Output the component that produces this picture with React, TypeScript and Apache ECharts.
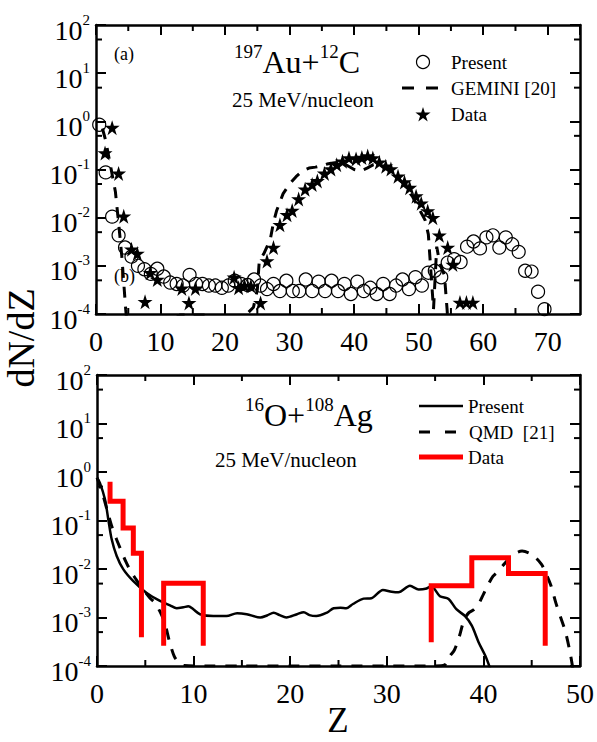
import React, { useEffect, useRef } from 'react';
import * as echarts from 'echarts';

const FONT = "'Liberation Serif', 'Times New Roman', Times, serif";

// ---------- Panel (a): 197Au + 12C, 25 MeV/nucleon ----------
const presentAZ = [0.5, 1.5, 2.5, 3.5, 4.5, 5.5, 6.5, 7.5, 8.5, 9.5, 10.5, 11.5, 12.5, 13.5, 14.5, 15.5, 16.5, 17.5, 18.5, 19.5,
  20.5, 21.5, 22.5, 23.5, 24.5, 25.5, 26.5, 27.5, 28.5, 29.5, 30.5, 31.5, 32.5, 33.5, 34.5, 35.5, 36.5, 37.5, 38.5, 39.5,
  40.5, 41.5, 42.5, 43.5, 44.5, 45.5, 46.5, 47.5, 48.5, 49.5, 50.5, 51.5, 52.5, 53.5, 54.5, 55.5, 56.5, 57.5, 58.5, 59.5,
  60.5, 61.5, 62.5, 63.5, 64.5, 65.5, 66.5, 67.5, 68.5, 69.5];
const presentAV = [0.85, 0.087, 0.0105, 0.0043, 0.0024, 0.00155, 0.001, 0.00085, 0.00068, 0.00087, 0.0006, 0.00045, 0.00042, 0.00039,
  0.00065, 0.00042, 0.00042, 0.00039, 0.00039, 0.00035, 0.00039, 0.00049, 0.00042, 0.0004, 0.00052, 0.00039, 0.00033, 0.00042,
  0.0003, 0.00049, 0.0003, 0.0003, 0.00052, 0.0003, 0.00047, 0.0003, 0.00049, 0.0003, 0.00042, 0.00026, 0.00047, 0.0003,
  0.00035, 0.00026, 0.00042, 0.00026, 0.00039, 0.00052, 0.00033, 0.00058, 0.00039, 0.00072, 0.00079, 0.00058, 0.00117,
  0.00138, 0.0012, 0.0025, 0.0032, 0.0023, 0.0039, 0.0043, 0.0024, 0.0039, 0.0028, 0.00195, 0.00079, 0.00076, 0.00029, 0.000126];

const geminiZ = [1.0, 1.5, 2.0, 2.5, 3.0, 3.5, 4.0, 4.6, 5.0, 6.0, 10, 13, 17, 20, 23, 24.4, 25.0, 25.3, 26, 27, 27.5, 28, 29, 30,
  31, 32, 33, 34, 35, 36, 37, 38, 39, 40, 41, 42, 43, 44, 45, 46, 47, 48, 49, 50, 51, 51.5, 52.3, 52.8, 53.2, 54.0, 54.4, 54.6];
const geminiV = [0.71, 0.4, 0.178, 0.079, 0.035, 0.0079, 0.00158, 0.000126, 0.0000316, 0.0000158, 0.00005, 0.000095, 0.000095,
  0.000063, 0.000089, 0.000138, 0.00032, 0.00126, 0.00178, 0.0035, 0.0079, 0.0141, 0.0316, 0.05, 0.071, 0.093, 0.107, 0.112,
  0.12, 0.132, 0.138, 0.135, 0.12, 0.1, 0.093, 0.107, 0.126, 0.126, 0.107, 0.085, 0.063, 0.045, 0.028, 0.0158, 0.0089, 0.0045,
  0.000126, 0.0025, 0.00126, 0.00063, 0.000126, 0.00005];

const dataAZ = [1.4, 2.5, 3.5, 4.3, 5.5, 6.4, 7.6, 8.4, 9.5, 13.3, 14.4, 15.4, 21.4, 22.1, 23.0, 24.0, 25.5, 26.5, 27.5, 28.5,
  29.6, 30.4, 31.4, 32.4, 33.5, 34.3, 35.4, 36.4, 37.3, 38.2, 39.2, 40.3, 41.2, 42.1, 42.9, 43.9, 44.9, 45.7, 46.8, 47.8,
  48.6, 49.6, 50.4, 51.4, 52.2, 53.2, 54.5, 55.3, 56.4, 57.4, 58.4];
const dataAV = [0.22, 0.74, 0.083, 0.0107, 0.0022, 0.0018, 0.00018, 0.00072, 0.00052, 0.00034, 0.00017, 0.00034, 0.00058,
  0.00035, 0.00039, 0.00038, 0.00017, 0.00126, 0.0024, 0.0071, 0.0115, 0.0141, 0.0245, 0.039, 0.049, 0.058, 0.083, 0.102,
  0.126, 0.148, 0.174, 0.166, 0.178, 0.19, 0.174, 0.141, 0.117, 0.102, 0.072, 0.055, 0.042, 0.028, 0.02, 0.0138, 0.01,
  0.0043, 0.0024, 0.00107, 0.000174, 0.000174, 0.000174];

// ---------- Panel (b): 16O + 108Ag, 25 MeV/nucleon ----------
const presentBZ = [0, 0.31, 0.83, 1.17, 1.52, 2.04, 2.73, 3.76, 5.14, 6.52, 7.56, 8.25, 8.94, 9.45, 9.97, 10.66, 12.04, 13.4,
  14.5, 15.5, 16.9, 17.6, 18.3, 18.9, 19.6, 20.7, 21.4, 22.0, 22.7, 23.8, 24.5, 25.2, 25.8, 26.5, 27.6, 28.4, 29.6, 30.5,
  31.2, 32.4, 33.3, 34.0, 34.6, 35.5, 36.4, 37.2, 38.1, 38.8, 39.5, 40.2, 40.7];
const presentBV = [0.76, 0.59, 0.27, 0.105, 0.041, 0.0186, 0.0098, 0.0056, 0.0032, 0.0022, 0.00178, 0.00155, 0.00162, 0.0017,
  0.00148, 0.00117, 0.00107, 0.00107, 0.00123, 0.00117, 0.001, 0.0011, 0.00126, 0.00112, 0.001, 0.00117, 0.00129, 0.00112,
  0.00107, 0.00126, 0.00155, 0.00158, 0.00155, 0.0019, 0.00245, 0.0025, 0.0037, 0.0034, 0.0033, 0.0045, 0.0038, 0.0039,
  0.0044, 0.00275, 0.0024, 0.00148, 0.00107, 0.00068, 0.00031, 0.000162, 0.000089];

const qmdZ = [0, 0.5, 1, 1.5, 2, 2.5, 3, 3.5, 4, 4.5, 5, 5.5, 6, 6.5, 7, 7.5, 8, 8.5, 9, 12, 15, 20, 25, 30, 35, 36, 36.5, 37,
  37.5, 38, 38.5, 39, 39.5, 40, 40.5, 41, 41.5, 42, 43, 44, 45, 46, 46.5, 47, 47.5, 48, 48.5, 49, 49.3];
const qmdV = [0.76, 0.4, 0.178, 0.079, 0.042, 0.024, 0.014, 0.0089, 0.0063, 0.0045, 0.0033, 0.0025, 0.002, 0.00135, 0.00079,
  0.00032, 0.000158, 0.000115, 0.000102, 0.0001, 0.0001, 0.0001, 0.0001, 0.0001, 0.0001, 0.000105, 0.000158,
  0.000214, 0.0004, 0.00089, 0.00126, 0.00145, 0.0019, 0.003, 0.0048, 0.0071, 0.0089, 0.0117, 0.019, 0.0234, 0.02, 0.0126,
  0.0079, 0.0045, 0.002, 0.001, 0.0005, 0.000178, 0.000079];

// Data histogram (bin edges, bin values, level before first edge, level after last edge)
const redG1Edges = [1.35, 2.7, 3.76, 4.6];
const redG1Values = [0.25, 0.07, 0.021];
const redG1Ends = [0.63, 0.00039];
const redG2Edges = [6.9, 11.0];
const redG2Values = [0.0051];
const redG2Ends = [0.00026, 0.00026];
const redG3Edges = [34.6, 38.8, 42.6, 46.4];
const redG3Values = [0.0045, 0.017, 0.0081];
const redG3Ends = [0.00031, 0.00026];

// tick labels
const yDecades = [-4, -3, -2, -1, 0, 1, 2];

const lg = (v: number) => Math.log10(v);
const pairs = (zs: number[], vs: number[]) => zs.map((z, i) => [z, lg(vs[i])]);
const stepPts = (edges: number[], values: number[], ends: number[]) => {
  const pts: number[][] = [[edges[0], lg(ends[0])]];
  values.forEach((v, i) => {
    pts.push([edges[i], lg(v)]);
    pts.push([edges[i + 1], lg(v)]);
  });
  pts.push([edges[edges.length - 1], lg(ends[1])]);
  return pts;
};

const STAR = 'path://M50,0L61.2,34.5L97.6,34.5L68.2,55.9L79.4,90.5L50,69.1L20.6,90.5L31.8,55.9L2.4,34.5L38.8,34.5Z';

const starPoints = (cx: number, cy: number, R: number) => {
  const pts: number[][] = [];
  for (let k = 0; k < 10; k++) {
    const a = -Math.PI / 2 + (k * Math.PI) / 5;
    const r = k % 2 === 0 ? R : R * 0.382;
    pts.push([cx + r * Math.cos(a), cy + r * Math.sin(a)]);
  }
  return pts;
};

const AX_LINE = { show: true, onZero: false, lineStyle: { color: '#000', width: 2.5 } };
const AX_TICK = { show: true, inside: true, length: 10, lineStyle: { color: '#000', width: 2 } };

const xAx = (grid: number, pos: string, max: number, labels: boolean) => ({
  type: 'value', gridIndex: grid, position: pos, min: 0, max, interval: 10,
  axisLine: AX_LINE, axisTick: AX_TICK, splitLine: { show: false }, minorTick: { show: false },
  axisLabel: labels
    ? { show: true, color: '#000', fontFamily: FONT, fontSize: 28, lineHeight: 28, margin: 13, showMaxLabel: max % 10 === 0 }
    : { show: false },
});

const yAx = (grid: number, pos: string, labels: boolean) => ({
  type: 'value', gridIndex: grid, position: pos, min: yDecades[0], max: yDecades[yDecades.length - 1], interval: 1,
  axisLine: AX_LINE, axisTick: AX_TICK, splitLine: { show: false }, minorTick: { show: false },
  axisLabel: labels
    ? {
        show: true, margin: 6, padding: [10, 0, 0, 0],
        formatter: (v: number) => `{b|10}{e|${Math.round(v)}}`,
        rich: {
          b: { fontSize: 28, fontFamily: FONT, color: '#000', lineHeight: 36 },
          e: { fontSize: 15, fontFamily: FONT, color: '#000', lineHeight: 14, verticalAlign: 'top' },
        },
      }
    : { show: false },
});

const minorX = (xi: number, yi: number, positions: number[]) => ({
  type: 'custom', xAxisIndex: xi, yAxisIndex: yi, silent: true, z: 10,
  data: positions.map((p) => [p, 0]),
  renderItem: (params: any, api: any) => {
    const cs = params.coordSys;
    const px = api.coord([api.value(0), api.value(1)])[0];
    const st = { stroke: '#000', lineWidth: 2 };
    return {
      type: 'group',
      children: [
        { type: 'line', shape: { x1: px, y1: cs.y + cs.height, x2: px, y2: cs.y + cs.height - 6 }, style: st },
        { type: 'line', shape: { x1: px, y1: cs.y, x2: px, y2: cs.y + 6 }, style: st },
      ],
    };
  },
});

const minorY = (xi: number, yi: number, positions: number[]) => ({
  type: 'custom', xAxisIndex: xi, yAxisIndex: yi, silent: true, z: 10,
  data: positions.map((p) => [0, p]),
  renderItem: (params: any, api: any) => {
    const cs = params.coordSys;
    const py = api.coord([api.value(0), api.value(1)])[1];
    const st = { stroke: '#000', lineWidth: 2 };
    return {
      type: 'group',
      children: [
        { type: 'line', shape: { x1: cs.x, y1: py, x2: cs.x + 6, y2: py }, style: st },
        { type: 'line', shape: { x1: cs.x + cs.width, y1: py, x2: cs.x + cs.width - 6, y2: py }, style: st },
      ],
    };
  },
});

const txt = (text: string, x: number, y: number, size: number, extra: any = {}) => ({
  type: 'text', x, y, silent: true, z: 100,
  style: {
    text, fontSize: size, fontFamily: FONT, fill: '#000',
    align: 'left', verticalAlign: 'middle', textAlign: 'left', textVerticalAlign: 'middle', ...extra,
  },
});

const titleRich = {
  b: { fontSize: 32, fontFamily: FONT, fill: '#000', color: '#000', lineHeight: 40 },
  s: { fontSize: 19, fontFamily: FONT, fill: '#000', color: '#000', lineHeight: 14, verticalAlign: 'top' },
};

const minorYPos = yDecades.slice(0, -1).map((d) => d + Math.log10(5));

const buildOption = () => ({
  animation: false,
  backgroundColor: '#fff',
  grid: [
    { left: 96, top: 25, width: 484, height: 289, containLabel: false },
    { left: 97, top: 375, width: 483, height: 291, containLabel: false },
  ],
  xAxis: [xAx(0, 'bottom', 75, true), xAx(0, 'top', 75, false), xAx(1, 'bottom', 50, true), xAx(1, 'top', 50, false)],
  yAxis: [yAx(0, 'left', true), yAx(0, 'right', false), yAx(1, 'left', true), yAx(1, 'right', false)],
  series: [
    minorX(0, 0, [5, 15, 25, 35, 45, 55, 65]),
    minorY(0, 0, minorYPos),
    minorX(2, 2, [5, 15, 25, 35, 45]),
    minorY(2, 2, minorYPos),
    {
      name: 'Present', type: 'scatter', xAxisIndex: 0, yAxisIndex: 0, symbol: 'circle', symbolSize: 13,
      itemStyle: { color: 'rgba(255,255,255,0)', borderColor: '#000', borderWidth: 1.2, opacity: 1 },
      data: pairs(presentAZ, presentAV),
    },
    {
      name: 'GEMINI [20]', type: 'line', xAxisIndex: 0, yAxisIndex: 0, showSymbol: false, symbol: 'none', clip: true,
      lineStyle: { color: '#000', width: 3, type: [11, 9] },
      data: pairs(geminiZ, geminiV),
    },
    {
      name: 'Data', type: 'scatter', xAxisIndex: 0, yAxisIndex: 0, symbol: STAR, symbolSize: 15,
      itemStyle: { color: '#000', opacity: 1 },
      data: pairs(dataAZ, dataAV),
    },
    {
      name: 'Present', type: 'line', xAxisIndex: 2, yAxisIndex: 2, showSymbol: false, symbol: 'none', clip: true, smooth: 0.3,
      lineStyle: { color: '#000', width: 2.5 },
      data: pairs(presentBZ, presentBV),
    },
    {
      name: 'QMD [21]', type: 'line', xAxisIndex: 2, yAxisIndex: 2, showSymbol: false, symbol: 'none', clip: true, smooth: 0.3,
      lineStyle: { color: '#000', width: 3, type: [11, 10] },
      data: pairs(qmdZ, qmdV),
    },
    ...[
      stepPts(redG1Edges, redG1Values, redG1Ends),
      stepPts(redG2Edges, redG2Values, redG2Ends),
      stepPts(redG3Edges, redG3Values, redG3Ends),
    ].map((pts) => ({
      name: 'Data', type: 'line', xAxisIndex: 2, yAxisIndex: 2, showSymbol: false, symbol: 'none', clip: true,
      lineStyle: { color: '#ff0000', width: 5, join: 'miter' },
      data: pts,
    })),
  ],
  graphic: {
    elements: [
      // panel (a) annotations
      txt('(a)', 114, 54, 18),
      txt('(b)', 114, 276, 18),
      {
        type: 'text', x: 234, y: 42, silent: true, z: 100,
        style: { text: '{s|197}{b|Au+}{s|12}{b|C}', rich: titleRich, fontFamily: FONT, fontSize: 32, fill: '#000',
          align: 'left', verticalAlign: 'top', textAlign: 'left', textVerticalAlign: 'top' },
      },
      txt('25 MeV/nucleon', 232, 100, 21),
      // panel (a) legend
      { type: 'circle', shape: { cx: 423, cy: 62, r: 6.5 }, style: { fill: 'none', stroke: '#000', lineWidth: 1.2 }, z: 100 },
      txt('Present', 451, 62, 19),
      { type: 'line', shape: { x1: 402, y1: 88, x2: 438, y2: 88 }, style: { stroke: '#000', lineWidth: 3, lineDash: [12, 12] }, z: 100 },
      txt('GEMINI [20]', 451, 88, 19),
      { type: 'polygon', shape: { points: starPoints(423, 115, 8) }, style: { fill: '#000' }, z: 100 },
      txt('Data', 451, 114, 19),
      // panel (b) annotations
      {
        type: 'text', x: 245, y: 395, silent: true, z: 100,
        style: { text: '{s|16}{b|O+}{s|108}{b|Ag}', rich: titleRich, fontFamily: FONT, fontSize: 32, fill: '#000',
          align: 'left', verticalAlign: 'top', textAlign: 'left', textVerticalAlign: 'top' },
      },
      txt('25 MeV/nucleon', 215, 460, 21),
      // panel (b) legend
      { type: 'line', shape: { x1: 419, y1: 406, x2: 463, y2: 406 }, style: { stroke: '#000', lineWidth: 2.5 }, z: 100 },
      txt('Present', 468, 406, 19),
      { type: 'line', shape: { x1: 419, y1: 432, x2: 463, y2: 432 }, style: { stroke: '#000', lineWidth: 3, lineDash: [11, 15] }, z: 100 },
      txt('QMD  [21]', 469, 432, 19),
      { type: 'line', shape: { x1: 419, y1: 457, x2: 463, y2: 457 }, style: { stroke: '#ff0000', lineWidth: 5 }, z: 100 },
      txt('Data', 468, 457, 19),
      // axis titles
      {
        type: 'text', x: 21, y: 338, rotation: Math.PI / 2, silent: true, z: 100,
        style: { text: 'dN/dZ', fontSize: 38, fontFamily: FONT, fill: '#000',
          align: 'center', verticalAlign: 'middle', textAlign: 'center', textVerticalAlign: 'middle' },
      },
      txt('Z', 338, 720, 35, { align: 'center', textAlign: 'center' }),
    ],
  },
});

export default function App() {
  const ref = useRef<HTMLDivElement>(null);
  useEffect(() => {
    if (!ref.current) return;
    const chart = echarts.init(ref.current, null, { renderer: 'svg' });
    chart.setOption(buildOption() as any);
    return () => chart.dispose();
  }, []);
  return (
    <div
      ref={ref}
      style={{ position: 'fixed', left: 0, top: 0, width: 597, height: 742, background: '#fff' }}
    />
  );
}
